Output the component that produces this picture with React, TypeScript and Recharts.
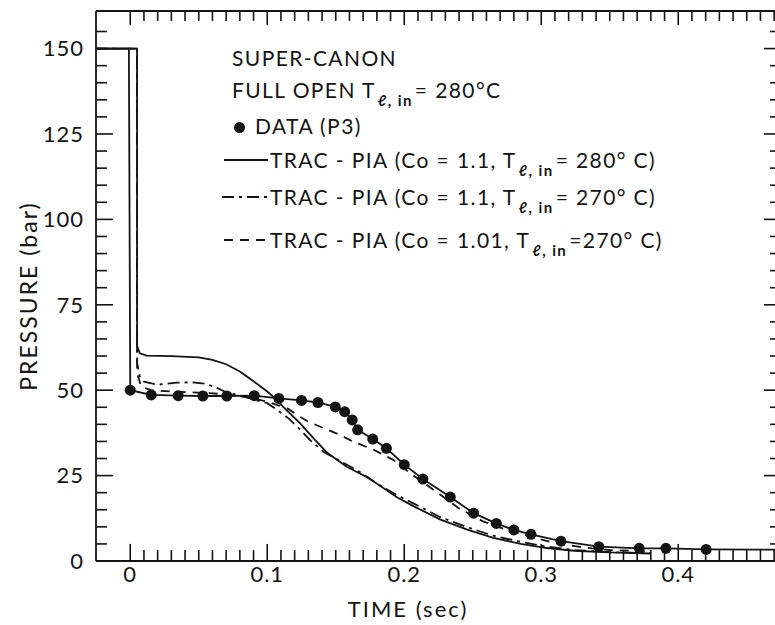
import React from 'react';
import { ComposedChart, Line, Scatter, XAxis, YAxis, ReferenceLine } from 'recharts';

// measured data (P3), dots
const dataTime = [0, 0.0153, 0.035, 0.053, 0.0705, 0.0905, 0.1085, 0.125, 0.137, 0.1496, 0.1565, 0.162, 0.166, 0.177, 0.187, 0.2, 0.2136, 0.2336, 0.2506, 0.2672, 0.28, 0.2925, 0.3144, 0.342, 0.3715, 0.391, 0.4204];
const dataPressure = [50, 48.6, 48.4, 48.3, 48.3, 48.4, 47.6, 47.0, 46.4, 45.1, 43.7, 41.3, 38.4, 35.7, 33.0, 28.2, 24.0, 18.7, 14.0, 11.0, 9.1, 7.8, 5.8, 4.2, 3.7, 3.7, 3.4];
// line through the data, including the initial pressure and the tail
const dataLineHeadTime = [-0.025, -0.001];
const dataLineHeadPressure = [150, 150];
const dataLineTailTime = [0.475];
const dataLineTailPressure = [3.3];

// TRAC-PIA (Co=1.1, T=280 C) solid
const solidTime = [-0.025, 0.005, 0.005, 0.007, 0.012, 0.03, 0.05, 0.06, 0.07, 0.08, 0.09, 0.1, 0.105, 0.114, 0.124, 0.134, 0.144, 0.158, 0.173, 0.185, 0.195, 0.207, 0.226, 0.246, 0.265, 0.285, 0.304, 0.324, 0.35, 0.38];
const solidPressure = [150, 150, 63, 60.8, 60.1, 60, 59.6, 58.9, 57.6, 55.5, 52.6, 49.6, 47.9, 44.2, 40.3, 35.8, 31.6, 27.6, 24.5, 21.3, 18.6, 16, 12.2, 9.2, 6.8, 5.0, 3.8, 3.0, 2.5, 2.2];

// TRAC-PIA (Co=1.1, T=270 C) dash-dot
const dashDotTime = [-0.025, 0.005, 0.005, 0.007, 0.01, 0.02, 0.034, 0.045, 0.055, 0.062, 0.07, 0.08, 0.09, 0.1, 0.108, 0.116, 0.122, 0.131, 0.141, 0.153, 0.165, 0.182, 0.195, 0.207, 0.226, 0.246, 0.265, 0.285, 0.304, 0.324, 0.35, 0.38];
const dashDotPressure = [150, 150, 58, 54, 52.5, 51.6, 52.2, 52.3, 51.9, 50.9, 49.4, 48.5, 47.3, 46.2, 44.0, 41.6, 39.3, 35.5, 32, 29.3, 26.7, 22.2, 19.2, 16.8, 12.9, 9.9, 7.4, 5.6, 4.2, 3.2, 2.6, 2.3];

// TRAC-PIA (Co=1.01, T=270 C) dashed
const dashedTime = [-0.025, 0.005, 0.005, 0.008, 0.015, 0.03, 0.05, 0.07, 0.09, 0.102, 0.115, 0.124, 0.13, 0.153, 0.163, 0.178, 0.192, 0.2044, 0.2215, 0.24, 0.258, 0.275, 0.297, 0.311, 0.33, 0.35, 0.38];
const dashedPressure = [150, 150, 55, 51, 50, 49.6, 49.3, 48.8, 47.6, 46.4, 44.6, 42.2, 40.8, 36.9, 34.9, 32.5, 29.6, 25.7, 20.8, 15.4, 11.5, 9.1, 6.6, 5.2, 4.0, 3.2, 2.8];

const xTicks = [0, 0.1, 0.2, 0.3, 0.4];
const yTicks = [0, 25, 50, 75, 100, 125, 150];
const xMinorTicks = Array.from({ length: 48 }, (_, i) => i / 100);
const yMinorTicks = Array.from({ length: 31 }, (_, i) => (i + 1) * 5);

const X_MIN = -0.025;
const X_MAX = 0.475;
const Y_MAX = 161;

const toPoints = (t: number[], p: number[]) => t.map((v, i) => ({ t: v, p: p[i] }));

const dataDots = toPoints(dataTime, dataPressure);
const dataLine = [
    ...toPoints(dataLineHeadTime, dataLineHeadPressure),
    ...dataDots,
    ...toPoints(dataLineTailTime, dataLineTailPressure),
];
const solidLine = toPoints(solidTime, solidPressure);
const dashDotLine = toPoints(dashDotTime, dashDotPressure);
const dashedLine = toPoints(dashedTime, dashedPressure);

const INK = '#141414';
const FONT = 'Lato, "DejaVu Sans", sans-serif';

const isMajorX = (t: number) => Math.abs(t * 10 - Math.round(t * 10)) < 1e-6;

const Dot = (props: any) => <circle cx={props.cx} cy={props.cy} r={5.5} fill={INK} />;

const Sub = () => (
    <span style={{ fontSize: 15, fontWeight: 700, position: 'relative', top: 8, margin: '0 2px' }}>ℓ, in</span>
);

const row = (top: number, left: number): React.CSSProperties => ({
    position: 'absolute', top, left, whiteSpace: 'nowrap', lineHeight: '24px',
});

export default function App() {
    // ticks on the frame, in data units so the library scales place them
    const tickLines: React.ReactNode[] = [];
    xMinorTicks.forEach((t) => {
        const major = isMajorX(t);
        tickLines.push(
            <ReferenceLine key={'b' + t} segment={[{ x: t, y: 0 }, { x: t, y: major ? 5 : 3.2 }]} stroke={INK} strokeWidth={1.6} ifOverflow="visible" />,
            <ReferenceLine key={'t' + t} segment={[{ x: t, y: Y_MAX }, { x: t, y: Y_MAX - (major ? 4.1 : 2.9) }]} stroke={INK} strokeWidth={1.6} ifOverflow="visible" />,
        );
    });
    yMinorTicks.forEach((p) => {
        const major = p % 25 === 0;
        tickLines.push(
            <ReferenceLine key={'l' + p} segment={[{ x: X_MIN, y: p }, { x: X_MIN + (major ? 0.0124 : 0.008), y: p }]} stroke={INK} strokeWidth={1.6} ifOverflow="visible" />,
            <ReferenceLine key={'r' + p} segment={[{ x: X_MAX, y: p }, { x: X_MAX - (major ? 0.0124 : 0.008), y: p }]} stroke={INK} strokeWidth={1.6} ifOverflow="visible" />,
        );
    });

    return (
        <div style={{ position: 'absolute', left: 0, top: 0, width: 775, height: 625, overflow: 'hidden', background: '#fff', fontFamily: FONT, color: INK }}>
            <ComposedChart width={790} height={625} margin={{ top: 11, right: 9, bottom: 0, left: 0 }}>
                <XAxis
                    type="number"
                    dataKey="t"
                    domain={[X_MIN, X_MAX]}
                    allowDataOverflow
                    ticks={xTicks}
                    tickFormatter={(v: number) => (v === 0 ? '0' : v.toFixed(1))}
                    height={64}
                    tickSize={0}
                    tickMargin={5}
                    axisLine={{ stroke: INK, strokeWidth: 1.8 }}
                    tickLine={false}
                    tick={{ fill: INK, fontSize: 22, fontFamily: FONT, letterSpacing: 1 }}
                />
                <YAxis
                    type="number"
                    dataKey="p"
                    domain={[0, Y_MAX]}
                    allowDataOverflow
                    ticks={yTicks}
                    width={96}
                    tickSize={0}
                    tickMargin={12}
                    axisLine={{ stroke: INK, strokeWidth: 1.8 }}
                    tickLine={false}
                    tick={{ fill: INK, fontSize: 22, fontFamily: FONT, letterSpacing: 1 }}
                />
                <ReferenceLine y={Y_MAX} stroke={INK} strokeWidth={1.8} ifOverflow="visible" />
                <ReferenceLine x={X_MAX} stroke={INK} strokeWidth={1.8} ifOverflow="visible" />
                {tickLines}
                <Line data={dataLine} dataKey="p" type="linear" stroke={INK} strokeWidth={1.8} dot={false} isAnimationActive={false} />
                <Line data={solidLine} dataKey="p" type="linear" stroke={INK} strokeWidth={1.8} dot={false} isAnimationActive={false} />
                <Line data={dashDotLine} dataKey="p" type="linear" stroke={INK} strokeWidth={1.8} strokeDasharray="12 5 3 5" dot={false} isAnimationActive={false} />
                <Line data={dashedLine} dataKey="p" type="linear" stroke={INK} strokeWidth={1.8} strokeDasharray="9 7" dot={false} isAnimationActive={false} />
                <Scatter data={dataDots} dataKey="p" shape={Dot} isAnimationActive={false} />
            </ComposedChart>

            <div style={{ position: 'absolute', left: 28, top: 296, transform: 'translate(-50%, -50%) rotate(-90deg)', fontSize: 23, letterSpacing: 2, whiteSpace: 'nowrap' }}>
                PRESSURE (bar)
            </div>
            <div style={{ position: 'absolute', left: 408, top: 608, transform: 'translate(-50%, -50%)', fontSize: 22, letterSpacing: 2, whiteSpace: 'nowrap' }}>
                TIME (sec)
            </div>

            <div style={{ fontSize: 21, letterSpacing: 1.4 }}>
                <div style={row(46, 232)}>SUPER-CANON</div>
                <div style={row(78, 232)}>FULL OPEN T<Sub />= 280°C</div>
                <div style={row(114, 234)}>
                    <span style={{ display: 'inline-block', width: 11, height: 11, borderRadius: 6, background: INK, marginRight: 10, verticalAlign: 1 }} />
                    DATA (P3)
                </div>
                <div style={row(148, 224)}>
                    <svg width={46} height={10} style={{ verticalAlign: 3 }}><line x1={0} y1={5} x2={44} y2={5} stroke={INK} strokeWidth={1.8} /></svg>
                    TRAC - PIA (Co = 1.1, T<Sub />= 280° C)
                </div>
                <div style={row(185, 222)}>
                    <svg width={48} height={10} style={{ verticalAlign: 3 }}><line x1={0} y1={5} x2={46} y2={5} stroke={INK} strokeWidth={1.8} strokeDasharray="12 5 3 5" /></svg>
                    TRAC - PIA (Co = 1.1, T<Sub />= 270° C)
                </div>
                <div style={row(228, 224)}>
                    <svg width={46} height={10} style={{ verticalAlign: 3 }}><line x1={0} y1={5} x2={44} y2={5} stroke={INK} strokeWidth={1.8} strokeDasharray="9 7" /></svg>
                    TRAC - PIA (Co = 1.01, T<Sub />=270° C)
                </div>
            </div>
        </div>
    );
}
